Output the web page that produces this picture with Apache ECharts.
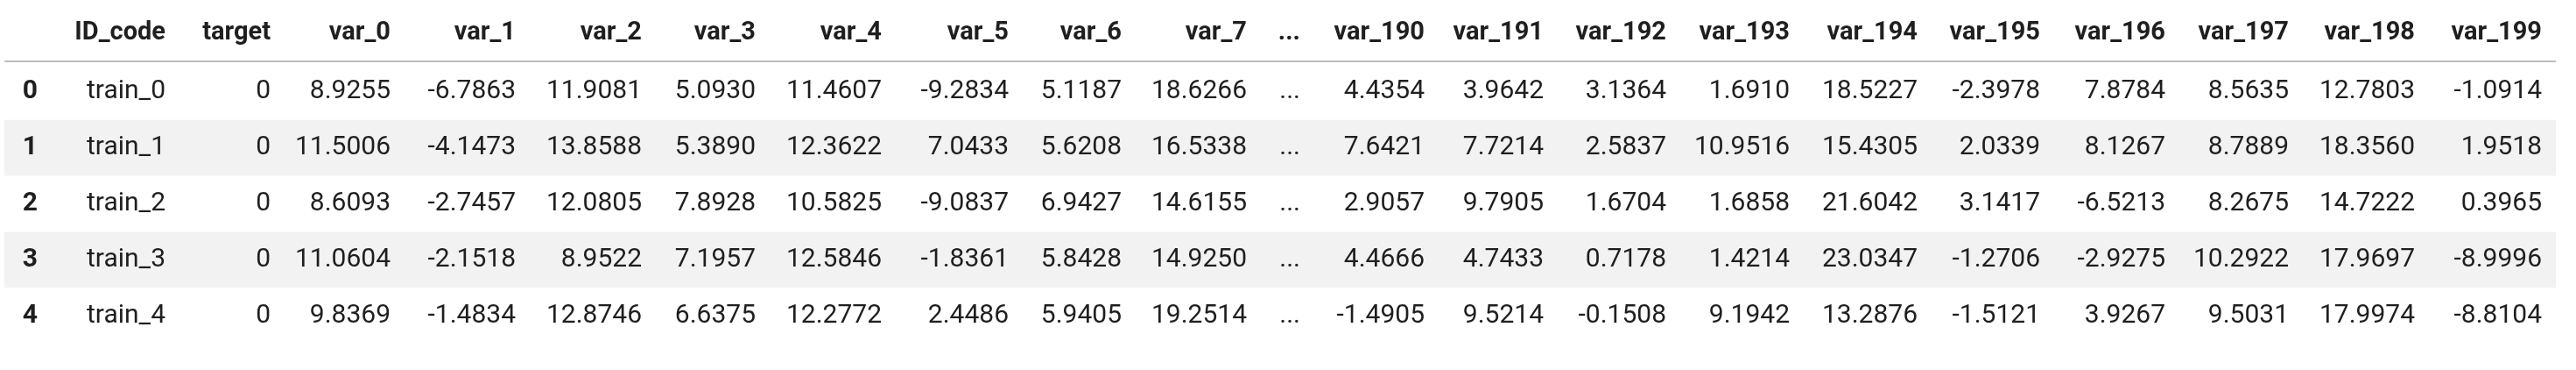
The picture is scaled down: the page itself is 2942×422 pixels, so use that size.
<!DOCTYPE html>
<html>
<head>
<meta charset="utf-8">
<script src="https://cdn.jsdelivr.net/npm/echarts@6/dist/echarts.min.js"></script>
<style>
html,body{margin:0;padding:0;background:#fff;}
#main{width:2942px;height:422px;}
</style>
</head>
<body>
<div id="main"></div>
<script>
// data
var rowIndex = ['0', '1', '2', '3', '4'];
var columns = ['ID_code', 'target', 'var_0', 'var_1', 'var_2', 'var_3', 'var_4', 'var_5', 'var_6', 'var_7', '...',
	'var_190', 'var_191', 'var_192', 'var_193', 'var_194', 'var_195', 'var_196', 'var_197', 'var_198', 'var_199'];
var idCode = ['train_0', 'train_1', 'train_2', 'train_3', 'train_4'];
var target = ['0', '0', '0', '0', '0'];
var var_0 = ['8.9255', '11.5006', '8.6093', '11.0604', '9.8369'];
var var_1 = ['-6.7863', '-4.1473', '-2.7457', '-2.1518', '-1.4834'];
var var_2 = ['11.9081', '13.8588', '12.0805', '8.9522', '12.8746'];
var var_3 = ['5.0930', '5.3890', '7.8928', '7.1957', '6.6375'];
var var_4 = ['11.4607', '12.3622', '10.5825', '12.5846', '12.2772'];
var var_5 = ['-9.2834', '7.0433', '-9.0837', '-1.8361', '2.4486'];
var var_6 = ['5.1187', '5.6208', '6.9427', '5.8428', '5.9405'];
var var_7 = ['18.6266', '16.5338', '14.6155', '14.9250', '19.2514'];
var dots = ['...', '...', '...', '...', '...'];
var var_190 = ['4.4354', '7.6421', '2.9057', '4.4666', '-1.4905'];
var var_191 = ['3.9642', '7.7214', '9.7905', '4.7433', '9.5214'];
var var_192 = ['3.1364', '2.5837', '1.6704', '0.7178', '-0.1508'];
var var_193 = ['1.6910', '10.9516', '1.6858', '1.4214', '9.1942'];
var var_194 = ['18.5227', '15.4305', '21.6042', '23.0347', '13.2876'];
var var_195 = ['-2.3978', '2.0339', '3.1417', '-1.2706', '-1.5121'];
var var_196 = ['7.8784', '8.1267', '-6.5213', '-2.9275', '3.9267'];
var var_197 = ['8.5635', '8.7889', '8.2675', '10.2922', '9.5031'];
var var_198 = ['12.7803', '18.3560', '14.7222', '17.9697', '17.9974'];
var var_199 = ['-1.0914', '1.9518', '0.3965', '-8.9996', '-8.8104'];

var colValues = [idCode, target, var_0, var_1, var_2, var_3, var_4, var_5, var_6, var_7, dots,
	var_190, var_191, var_192, var_193, var_194, var_195, var_196, var_197, var_198, var_199];

// layout: right edge of every column (px)
var indexRight = 43;
var colRight = [189, 309, 446, 589, 733, 863, 1007, 1152, 1281, 1424, 1485,
	1627, 1763, 1903, 2044, 2190, 2330, 2473, 2614, 2758, 2903];

var FONT = 'Roboto, "Liberation Sans", sans-serif';
var chart = echarts.init(document.getElementById('main'));

var cells = [];
rowIndex.forEach(function(r, i){
	cells.push([indexRight, i, r, 1]);
	colValues.forEach(function(col, j){
		cells.push([colRight[j], i, col[i], 0]);
	});
});

var header = columns.map(function(c, j){
	return {type: 'text', style: {text: c, x: colRight[j], y: 38, align: 'right', verticalAlign: 'middle',
		font: 'bold 29px ' + FONT, fill: '#1f1f1f'}};
});
header.push({type: 'rect', shape: {x: 5, y: 69, width: 2914, height: 2}, style: {fill: '#bdbdbd'}});

chart.setOption({
	animation: false,
	grid: {left: 0, right: 0, top: 73, bottom: 30},
	xAxis: {type: 'value', min: 0, max: 2942, show: false},
	yAxis: {type: 'category', data: rowIndex, inverse: true, show: false},
	graphic: header,
	series: [
		{
			// striped rows
			type: 'custom',
			data: rowIndex.map(function(r, i){ return [0, i]; }),
			renderItem: function(params, api){
				var i = api.value(1);
				if (i % 2 === 0) return null;
				var p = api.coord([5, i]);
				var h = api.size([0, 1])[1];
				return {type: 'rect', shape: {x: p[0], y: p[1] - h / 2, width: 2914, height: h},
					style: {fill: '#f2f2f2'}};
			},
			silent: true
		},
		{
			type: 'custom',
			data: cells,
			renderItem: function(params, api){
				var p = api.coord([api.value(0), api.value(1)]);
				var bold = api.value(3) === 1;
				return {type: 'text', style: {text: cells[params.dataIndex][2], x: p[0], y: p[1],
					align: 'right', verticalAlign: 'middle',
					font: (bold ? 'bold ' : '') + '30px ' + FONT, fill: '#1f1f1f'}};
			},
			silent: true
		}
	]
});
</script>
</body>
</html>
